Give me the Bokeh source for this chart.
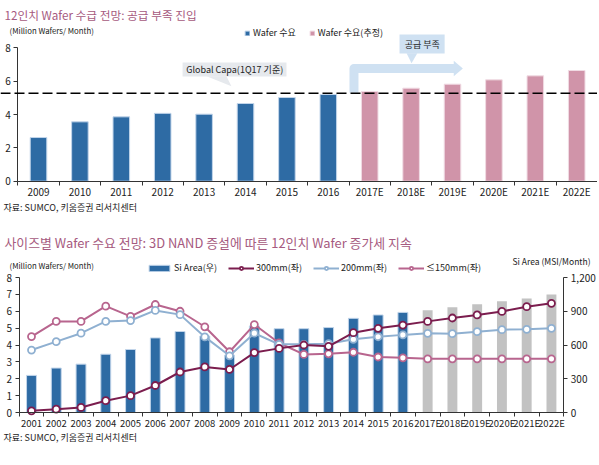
from bokeh.plotting import figure
from bokeh.models import (Range1d, LinearAxis, FixedTicker, Span, Label, Legend,
                          LegendItem, NumeralTickFormatter)
from bokeh.layouts import column
from bokeh.embed import file_html
from bokeh.resources import INLINE

# ---------------- data: chart 1 ----------------
c1_years_actual = ["2009", "2010", "2011", "2012", "2013", "2014", "2015", "2016"]
c1_demand_actual = [2.62, 3.56, 3.86, 4.07, 4.02, 4.66, 5.02, 5.20]
c1_years_est = ["2017E", "2018E", "2019E", "2020E", "2021E", "2022E"]
c1_demand_est = [5.38, 5.58, 5.82, 6.08, 6.32, 6.64]
c1_capa = 5.28
c1_yticks = [0, 2, 4, 6, 8]

# ---------------- data: chart 2 ----------------
c2_years = ["2001", "2002", "2003", "2004", "2005", "2006", "2007", "2008", "2009",
            "2010", "2011", "2012", "2013", "2014", "2015", "2016",
            "2017E", "2018E", "2019E", "2020E", "2021E", "2022E"]
c2_si_area_actual = [330, 395, 430, 518, 560, 663, 720, 680, 510, 770, 745, 745,
                     755, 837, 867, 890]
c2_si_area_est = [908, 935, 962, 988, 1014, 1050]
c2_300mm = [0.10, 0.20, 0.30, 0.70, 1.00, 1.60, 2.40, 2.70, 2.55, 3.55, 3.80, 4.00,
            3.92, 4.73, 4.99, 5.18, 5.40, 5.60, 5.78, 5.99, 6.27, 6.47]
c2_200mm = [3.70, 4.20, 4.70, 5.40, 5.45, 6.05, 5.80, 4.48, 3.36, 4.70, 4.04, 4.04,
            4.08, 4.34, 4.49, 4.60, 4.69, 4.67, 4.79, 4.91, 4.93, 4.99]
c2_150mm = [4.50, 5.40, 5.40, 6.30, 5.70, 6.40, 6.00, 5.08, 3.60, 5.21, 4.12, 3.44,
            3.48, 3.57, 3.29, 3.24, 3.18, 3.18, 3.18, 3.18, 3.18, 3.18]
c2_left_ticks = [0, 1, 2, 3, 4, 5, 6, 7, 8]
c2_right_ticks = [0, 300, 600, 900, 1200]

# ---------------- styles ----------------
FONT = "Noto Sans CJK KR"
TITLE_COLOR = "#a65a80"
TXT = "#222222"
AX = "#333333"
BLUE = "#2e6ba4"
PINK = "#d094a9"
GRAY = "#c2c2c2"
C300 = "#7b1d4e"
C200 = "#8fb0d1"
C150 = "#b8658e"
CALLOUT_GRAY = "#e6e9ed"
CALLOUT_BLUE = "#cfe1f2"
W = 597


def new_fig(h, xr, yr):
    p = figure(width=W, height=h, x_range=Range1d(*xr), y_range=Range1d(*yr),
               output_backend="svg", toolbar_location=None, title=None,
               min_border_left=0, min_border_right=0, min_border_top=0,
               min_border_bottom=0)
    p.xgrid.visible = False
    p.ygrid.visible = False
    p.outline_line_color = None
    return p


def style_x(p, xlabels, font_size):
    n = len(xlabels)
    xa = p.xaxis[0]
    xa.fixed_location = 0
    xa.bounds = (-0.5, n - 0.5)
    xa.ticker = FixedTicker(ticks=list(range(n)),
                            minor_ticks=[i - 0.5 for i in range(n + 1)])
    xa.major_label_overrides = {i: lab for i, lab in enumerate(xlabels)}
    xa.major_tick_line_color = None
    xa.major_tick_out = 0
    xa.major_tick_in = 0
    xa.minor_tick_line_color = AX
    xa.minor_tick_out = 4
    xa.minor_tick_in = 0
    xa.axis_line_color = AX
    xa.major_label_text_font = FONT
    xa.major_label_text_font_size = font_size
    xa.major_label_text_color = TXT
    xa.major_label_standoff = -1


def style_y(ax, size="10px"):
    ax.major_tick_out = 4
    ax.major_tick_in = 0
    ax.minor_tick_line_color = None
    ax.axis_line_color = AX
    ax.major_tick_line_color = AX
    ax.major_label_text_font = FONT
    ax.major_label_text_font_size = size
    ax.major_label_text_color = TXT
    ax.major_label_standoff = 3


def add_label(p, x, y, text, size, color=TXT, align="left"):
    p.add_layout(Label(x=x, y=y, text=text, text_font=FONT, text_font_size=size,
                       text_color=color, text_align=align, text_baseline="middle"))


# ================= chart 1 =================
p1 = new_fig(227, (-0.918, 13.502), (-2.778, 10.84))
style_x(p1, c1_years_actual + c1_years_est, "10px")
ya1 = p1.yaxis[0]
ya1.fixed_location = -0.5
ya1.ticker = FixedTicker(ticks=c1_yticks)
ya1.bounds = (0, 8)
style_y(ya1)

idx_a = list(range(len(c1_years_actual)))
idx_e = [len(c1_years_actual) + i for i in range(len(c1_years_est))]
r_act = p1.vbar(x=idx_a, top=c1_demand_actual, width=0.4, fill_color=BLUE,
                line_color="#c2d5ea", line_width=1)
r_est = p1.vbar(x=idx_e, top=c1_demand_est, width=0.4, fill_color=PINK,
                line_color="#f0dbe3", line_width=1)

# callout: Global Capa
p1.quad(left=[3.48], right=[5.99], bottom=[6.28], top=[7.12],
        fill_color=CALLOUT_GRAY, line_color=None)
p1.patch(x=[4.06, 4.54, 4.66], y=[6.29, 6.29, 5.70], fill_color=CALLOUT_GRAY,
         line_color=None)
add_label(p1, 4.74, 6.70, "Global Capa(1Q17 기준)", "9px", align="center")

# bent arrow + callout: 공급 부족
p1.line(x=[7.62, 7.62, 10.05], y=[5.30, 6.76, 6.76], line_width=9,
        line_color=CALLOUT_BLUE, line_join="round")
p1.patch(x=[10.03, 10.03, 10.25], y=[7.22, 6.30, 6.76], fill_color=CALLOUT_BLUE,
         line_color=None)
p1.quad(left=[8.72], right=[9.81], bottom=[7.66], top=[8.80],
        fill_color=CALLOUT_BLUE, line_color=None)
p1.patch(x=[8.89, 9.15, 9.01], y=[7.67, 7.67, 7.08], fill_color=CALLOUT_BLUE,
         line_color=None)
add_label(p1, 9.27, 8.23, "공급 부족", "9px", align="center")

p1.add_layout(Span(location=c1_capa, dimension="width", line_color="black",
                   line_dash="10 4", line_width=1.4))

add_label(p1, -0.821, 10.0, "12인치 Wafer 수급 전망: 공급 부족 진입", "11.7px",
          color=TITLE_COLOR)
add_label(p1, -0.70, 9.04, "(Million Wafers/ Month)", "7.8px")
add_label(p1, -0.845, -1.55, "자료: SUMCO, 키움증권 리서치센터", "9px")

leg1 = Legend(items=[LegendItem(label="Wafer 수요", renderers=[r_act]),
                     LegendItem(label="Wafer 수요(추정)", renderers=[r_est])],
              orientation="horizontal", location=(244, 188), glyph_width=6,
              glyph_height=6, label_height=9, label_standoff=3, spacing=13,
              padding=0, margin=0, border_line_color=None,
              background_fill_alpha=0, label_text_font=FONT,
              label_text_font_size="9px", label_text_color=TXT)
p1.add_layout(leg1)

# ================= chart 2 =================
n2 = len(c2_years)
YR2 = (-3.022, 10.963)
p2 = new_fig(236, (-1.252, 22.86), YR2)
p2.extra_y_ranges = {"right": Range1d(YR2[0] * 150, YR2[1] * 150)}
style_x(p2, c2_years, "9.5px")
ya2 = p2.yaxis[0]
ya2.fixed_location = -0.5
ya2.ticker = FixedTicker(ticks=c2_left_ticks)
ya2.bounds = (0, 8)
style_y(ya2)
ra = LinearAxis(y_range_name="right", ticker=FixedTicker(ticks=c2_right_ticks),
                bounds=(0, 1200), formatter=NumeralTickFormatter(format="0,0"),
                fixed_location=n2 - 0.5)
style_y(ra, "10px")
p2.add_layout(ra, "right")

ia = list(range(len(c2_si_area_actual)))
ie = [len(c2_si_area_actual) + i for i in range(len(c2_si_area_est))]
r_si = p2.vbar(x=ia, top=c2_si_area_actual, width=0.4, fill_color=BLUE,
               line_color="#c2d5ea", line_width=1, y_range_name="right")
p2.vbar(x=ie, top=c2_si_area_est, width=0.4, fill_color=GRAY, line_color=None,
        y_range_name="right")

xs = list(range(n2))
series = [("≤150mm(좌)", c2_150mm, C150), ("200mm(좌)", c2_200mm, C200),
          ("300mm(좌)", c2_300mm, C300)]
items = {}
for name, vals, col in series:
    rl = p2.line(x=xs, y=vals, line_color=col, line_width=2)
    rs = p2.scatter(x=xs, y=vals, marker="circle", size=7, fill_color="white",
                    line_color=col, line_width=1.8)
    items[name] = [rl, rs]

leg2 = Legend(items=[LegendItem(label="Si Area(우)", renderers=[r_si]),
                     LegendItem(label="300mm(좌)", renderers=items["300mm(좌)"]),
                     LegendItem(label="200mm(좌)", renderers=items["200mm(좌)"]),
                     LegendItem(label="≤150mm(좌)", renderers=items["≤150mm(좌)"])],
              orientation="horizontal", location=(146, 189), glyph_width=26,
              glyph_height=8, label_height=9, label_standoff=2, spacing=11,
              padding=0, margin=0, border_line_color=None,
              background_fill_alpha=0, label_text_font=FONT,
              label_text_font_size="9px", label_text_color=TXT)
p2.add_layout(leg2)

add_label(p2, -1.09, 10.07,
          "사이즈별 Wafer 수요 전망: 3D NAND 증설에 따른 12인치 Wafer 증가세 지속",
          "12.9px", color=TITLE_COLOR)
add_label(p2, -0.888, 8.71, "(Million Wafers/ Month)", "7.8px")
add_label(p2, 22.58, 8.95, "Si Area (MSI/Month)", "8.5px", align="right")
add_label(p2, -1.13, -1.48, "자료: SUMCO, 키움증권 리서치센터", "9px")

layout = column(p1, p2)
open("out.html", "w").write(file_html(layout, INLINE))
